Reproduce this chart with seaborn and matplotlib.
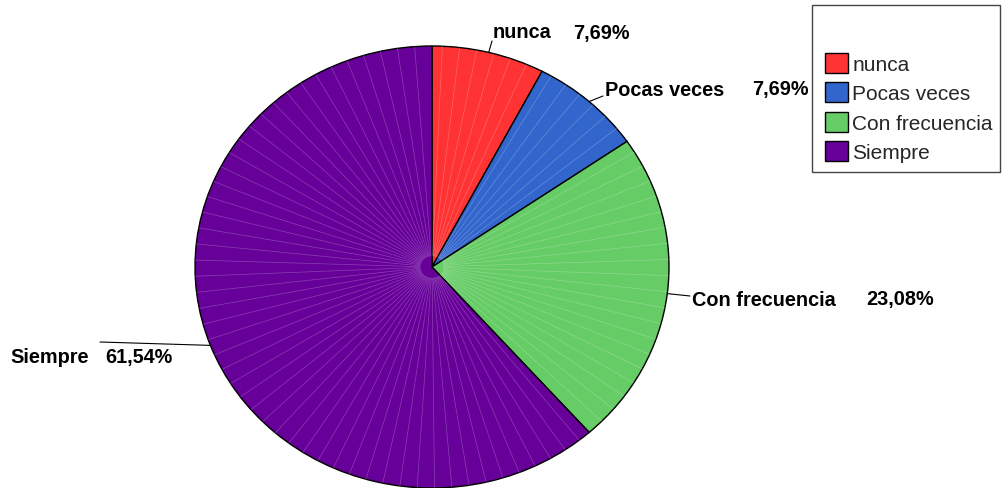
import numpy as np
import matplotlib
matplotlib.use("Agg")
import matplotlib.pyplot as plt
from matplotlib.patches import Rectangle
import seaborn as sns

categories = ["nunca", "Pocas veces", "Con frecuencia", "Siempre"]
percents = [7.69, 7.69, 23.08, 61.54]
pct_labels = ["7,69%", "7,69%", "23,08%", "61,54%"]
colors = ["#FF3333", "#3366CC", "#66CC66", "#660099"]

W, H = 1002, 489
sns.set_theme(style="white")
plt.rcParams["font.family"] = ["Liberation Sans", "DejaVu Sans"]

fig = plt.figure(figsize=(W / 100, H / 100), dpi=100)
ax = fig.add_axes([0, 0, 1, 1])

# pie centre and radii in pixels (slightly elliptical, as in the original)
cx, cy, rx, ry = 432, 268, 237, 221

wedges, _ = ax.pie(percents, colors=colors, startangle=90, counterclock=False,
                   wedgeprops=dict(edgecolor="black", linewidth=1.0))
ax.set_aspect("auto")
ax.set_xlim(-cx / rx, (W - cx) / rx)
ax.set_ylim((cy - H) / ry, cy / ry)


def px(x, y):
    # pixel coords (from top-left) -> data coords
    return (x - cx) / rx, (cy - y) / ry


# faint radial lines like the original renderer
for w in wedges:
    a0, a1 = sorted([w.theta1, w.theta2])
    for a in np.arange(a0 + 4.2, a1 - 1, 4.2):
        t = np.deg2rad(a)
        ax.plot([0.05 * np.cos(t), np.cos(t)], [0.05 * np.sin(t), np.sin(t)],
                color="white", lw=0.5, alpha=0.25, zorder=3)

# labels with leader lines
name_pos = [(493, 33), (605, 90), (692, 300), (10, 358)]
pct_pos = [(573, 33), (752, 90), (866, 300), (105, 358)]
line_end = [(492, 42), (603, 97), (690, 297), (100, 343)]

for w, name, pct, npos, ppos, lend in zip(wedges, categories, pct_labels, name_pos, pct_pos, line_end):
    mid = np.deg2rad((w.theta1 + w.theta2) / 2)
    ex, ey = px(*lend)
    ax.plot([np.cos(mid), ex], [np.sin(mid), ey], color="black", lw=0.8, zorder=4)
    ax.text(*px(*npos), name, ha="left", va="center", fontsize=14.3, fontweight="bold", color="black")
    ax.text(*px(*ppos), pct, ha="left", va="center", fontsize=14.3, fontweight="bold", color="black")

ax.axis("off")

# legend box
fig.patches.append(Rectangle((812 / W, 1 - 173 / H), (1000 - 812) / W, (173 - 6) / H,
                             transform=fig.transFigure, fill=False, edgecolor="#444444", lw=1.0))
fig.legend(wedges, categories, loc="upper left", bbox_to_anchor=(825 / W, 1 - 54 / H),
           frameon=False, fontsize=15, handlelength=1.1, handleheight=1.1,
           handletextpad=0.2, labelspacing=0.4, borderpad=0, borderaxespad=0)

fig.savefig("out.png", dpi=100)
